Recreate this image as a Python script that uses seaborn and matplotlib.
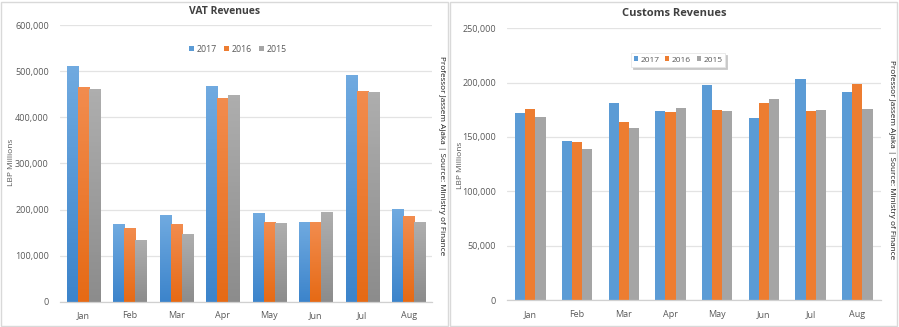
import numpy as np
import pandas as pd
import matplotlib
matplotlib.use("Agg")
import matplotlib.pyplot as plt
from matplotlib.patches import Rectangle
from matplotlib.colors import LinearSegmentedColormap
from matplotlib.ticker import FuncFormatter, FixedLocator
import seaborn as sns

months = ["Jan", "Feb", "Mar", "Apr", "May", "Jun", "Jul", "Aug"]
years = ["2017", "2016", "2015"]

# VAT revenues, LBP millions
vat_2017 = [511000, 168000, 188000, 469000, 193000, 174000, 493000, 202000]
vat_2016 = [466000, 161000, 168500, 443000, 173500, 173500, 458000, 186000]
vat_2015 = [462000, 134000, 146000, 449000, 171000, 194000, 456000, 172000]

# Customs revenues, LBP millions
cus_2017 = [172200, 146400, 181400, 173700, 198000, 167300, 203200, 191800]
cus_2016 = [175900, 145200, 163600, 173100, 175200, 181100, 174000, 199200]
cus_2015 = [168200, 139300, 158400, 177100, 174300, 184800, 174700, 175600]

colors = ["#5B9BD5", "#ED7D31", "#A5A5A5"]
grad_top = ["#70AAE0", "#F28C4E", "#AEAEAE"]
grad_bot = ["#3C84CB", "#E66A15", "#8C8C8C"]

sns.set_theme(style="white")
plt.rcParams["font.family"] = ["Open Sans", "DejaVu Sans"]


def long_frame(s17, s16, s15):
    rows = []
    for yr, vals in zip(years, [s17, s16, s15]):
        for m, v in zip(months, vals):
            rows.append({"month": m, "year": yr, "value": v})
    return pd.DataFrame(rows)


fig = plt.figure(figsize=(8.99, 3.27), dpi=100)
W, H = 899, 327

# panel frames
for x0, x1 in [(1, 448), (450, 897)]:
    fig.patches.append(Rectangle((x0 / W, 1.5 / H), (x1 - x0) / W, (H - 3) / H,
                                 transform=fig.transFigure, fill=False,
                                 edgecolor="#D9D9D9", linewidth=1.0))

tick_col = "#595959"
grid_col = "#E3E3E3"


def style_axes(ax, ymax, step, ticks_between):
    ax.set_ylim(0, ymax)
    ax.set_xlim(-0.5, 7.5)
    ax.yaxis.set_major_locator(FixedLocator(np.arange(0, ymax + 1, step)))
    ax.yaxis.set_major_formatter(FuncFormatter(lambda v, p: f"{int(v):,}"))
    ax.grid(axis="y", color=grid_col, linewidth=0.9)
    ax.set_axisbelow(True)
    for s in ["top", "right", "left"]:
        ax.spines[s].set_visible(False)
    ax.spines["bottom"].set_color("#D0D0D0")
    ax.spines["bottom"].set_linewidth(0.9)
    ax.tick_params(axis="y", length=0, labelsize=6.5, labelcolor=tick_col, pad=8)
    ax.tick_params(axis="x", length=0, labelsize=6.5, labelcolor=tick_col, pad=7)
    if ticks_between:
        ax.set_xticks(np.arange(-0.5, 8.0, 1.0), minor=True)
        ax.tick_params(axis="x", which="minor", length=4, color="#D0D0D0",
                       width=0.9, direction="out")
    ax.set_xlabel("")
    ax.set_ylabel("")


def add_gradients(ax):
    n = len(months)
    for i, patch in enumerate(ax.patches[: n * 3]):
        k = i // n
        cmap = LinearSegmentedColormap.from_list("g", [grad_bot[k], grad_top[k]])
        x, y = patch.get_x(), patch.get_y()
        w, h = patch.get_width(), patch.get_height()
        im = ax.imshow(np.linspace(0, 1, 64).reshape(-1, 1), cmap=cmap,
                       aspect="auto", origin="lower",
                       extent=[x, x + w, y, y + h], zorder=patch.get_zorder() + 0.1)
        im.set_clip_path(patch)
    ax.set_xlim(-0.5, 7.5)


# ---- VAT Revenues ----
ax1 = fig.add_axes([60 / W, 25.3 / H, 372 / W, 276.5 / H])
df_vat = long_frame(vat_2017, vat_2016, vat_2015)
sns.barplot(data=df_vat, x="month", y="value", hue="year", palette=colors,
            width=0.71, ax=ax1, legend=False, saturation=1, linewidth=0)
add_gradients(ax1)
style_axes(ax1, 600000, 100000, False)
ax1.set_aspect("auto")

# ---- Customs Revenues ----
ax2 = fig.add_axes([507 / W, 27 / H, 373.7 / W, 271.7 / H])
df_cus = long_frame(cus_2017, cus_2016, cus_2015)
sns.barplot(data=df_cus, x="month", y="value", hue="year", palette=colors,
            width=0.65, ax=ax2, legend=False, saturation=1, linewidth=0)
style_axes(ax2, 250000, 50000, True)

# titles
fig.text(225 / W, 1 - 12 / H, "VAT Revenues", ha="center", va="center",
         fontsize=7.5, fontweight="bold", color="#404040")
fig.text(674 / W, 1 - 13 / H, "Customs Revenues", ha="center", va="center",
         fontsize=8, fontweight="bold", color="#404040")

# y-axis titles
fig.text(12 / W, 1 - 162 / H, "LBP Millions", rotation=90, ha="center",
         va="center", fontsize=6, color=tick_col)
fig.text(461 / W, 1 - 165 / H, "LBP Millions", rotation=90, ha="center",
         va="center", fontsize=6, color=tick_col)

# source notes
note = "Professor Jassem Ajaka | Source: Ministry of Finance"
fig.text(441 / W, 1 - 156 / H, note, rotation=-90, ha="center", va="center",
         fontsize=5.9, color="#1A1A1A")
fig.text(891 / W, 1 - 160 / H, note, rotation=-90, ha="center", va="center",
         fontsize=5.9, color="#1A1A1A")

# legends
handles = [Rectangle((0, 0), 1, 1, facecolor=c, edgecolor="none") for c in colors]
leg1 = fig.legend(handles, years, loc="center", bbox_to_anchor=(238 / W, 1 - 49 / H),
                  ncol=3, frameon=False, fontsize=6.3, handlelength=0.55,
                  handleheight=0.55, handletextpad=0.35, columnspacing=0.8,
                  labelcolor=tick_col)
leg2 = fig.legend(handles, years, loc="center", bbox_to_anchor=(678 / W, 1 - 60 / H),
                  ncol=3, frameon=True, fontsize=6, handlelength=0.5,
                  handleheight=0.5, handletextpad=0.3, columnspacing=0.7,
                  labelcolor=tick_col, fancybox=False,
                  shadow={"color": "#C8C8C8", "alpha": 1.0, "ox": 1.5, "oy": -1.5},
                  borderpad=0.35)
leg2.get_frame().set_edgecolor("#E6E6E6")
leg2.get_frame().set_linewidth(0.6)

fig.savefig("out.png", dpi=100)
